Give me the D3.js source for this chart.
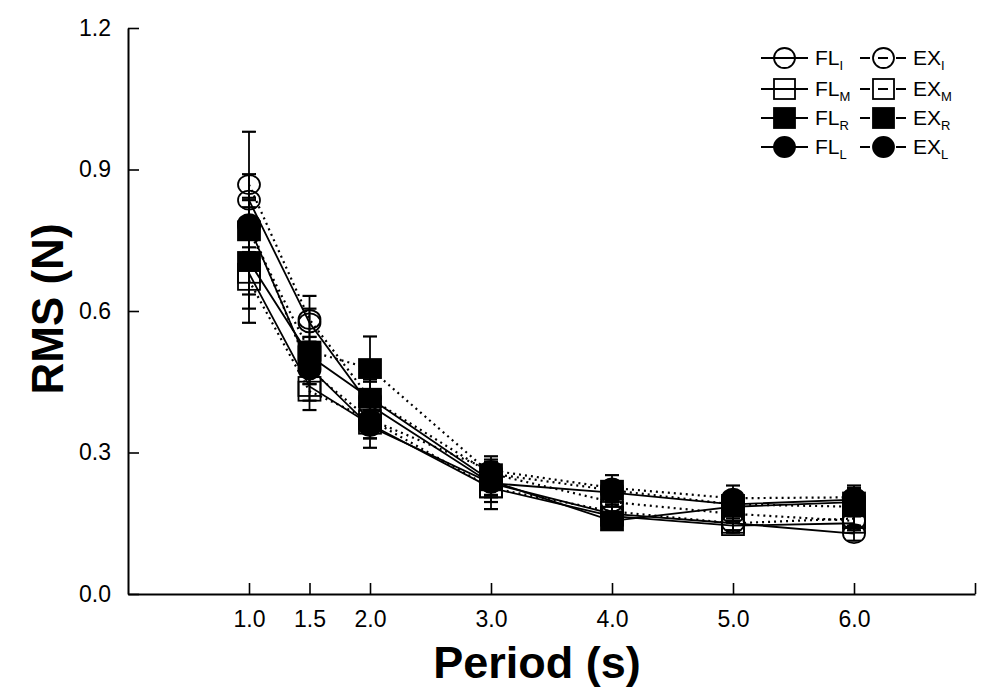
<!DOCTYPE html>
<html><head><meta charset="utf-8">
<script src="https://cdn.jsdelivr.net/npm/d3@7"></script>
<style>body{margin:0;background:#fff;} svg{display:block;font-family:"Liberation Sans",Arial,sans-serif;}</style>
</head><body>
<svg id="c" width="1000" height="696"></svg>
<script>
const periods = [1.0, 1.5, 2.0, 3.0, 4.0, 5.0, 6.0];
const xTickLabels = ["1.0","1.5","2.0","3.0","4.0","5.0","6.0"];
const yTicks = [0, 0.3, 0.6, 0.9, 1.2];

const FL_I = [0.835, 0.575, 0.400, 0.235, 0.170, 0.150, 0.128];
const FL_M = [0.680, 0.440, 0.360, 0.225, 0.165, 0.145, 0.150];
const FL_R = [0.705, 0.505, 0.415, 0.240, 0.155, 0.185, 0.195];
const FL_L = [0.780, 0.480, 0.355, 0.235, 0.215, 0.190, 0.200];
const EX_I = [0.868, 0.582, 0.415, 0.255, 0.195, 0.170, 0.155];
const EX_M = [0.665, 0.430, 0.370, 0.225, 0.175, 0.150, 0.160];
const EX_R = [0.770, 0.515, 0.478, 0.255, 0.220, 0.190, 0.185];
const EX_L = [0.785, 0.475, 0.370, 0.262, 0.225, 0.203, 0.205];

const FL_I_err = [0.055, 0.030, 0.030, 0.025, 0.020, 0.015, 0.015];
const FL_M_err = [0.105, 0.030, 0.030, 0.045, 0.020, 0.015, 0.015];
const FL_R_err = [0.070, 0.030, 0.040, 0.030, 0.015, 0.020, 0.020];
const FL_L_err = [0.060, 0.035, 0.045, 0.030, 0.020, 0.020, 0.025];
const EX_I_err = [0.112, 0.050, 0.035, 0.025, 0.020, 0.015, 0.015];
const EX_M_err = [0.060, 0.040, 0.030, 0.030, 0.020, 0.015, 0.015];
const EX_R_err = [0.050, 0.030, 0.068, 0.030, 0.020, 0.020, 0.020];
const EX_L_err = [0.050, 0.030, 0.040, 0.030, 0.027, 0.027, 0.025];

const series = [
  {name:"FL", sub:"I", vals:FL_I, err:FL_I_err, shape:"circle", fill:false, dotted:false},
  {name:"FL", sub:"M", vals:FL_M, err:FL_M_err, shape:"square", fill:false, dotted:false},
  {name:"FL", sub:"R", vals:FL_R, err:FL_R_err, shape:"square", fill:true, dotted:false},
  {name:"FL", sub:"L", vals:FL_L, err:FL_L_err, shape:"circle", fill:true, dotted:false},
  {name:"EX", sub:"I", vals:EX_I, err:EX_I_err, shape:"circle", fill:false, dotted:true},
  {name:"EX", sub:"M", vals:EX_M, err:EX_M_err, shape:"square", fill:false, dotted:true},
  {name:"EX", sub:"R", vals:EX_R, err:EX_R_err, shape:"square", fill:true, dotted:true},
  {name:"EX", sub:"L", vals:EX_L, err:EX_L_err, shape:"circle", fill:true, dotted:true}
];

const svg = d3.select("#c");
const x = d3.scaleLinear().domain([0, 7]).range([128, 975]);
const y = d3.scaleLinear().domain([0, 1.2]).range([594, 28]);

// axes
const xAxis = d3.axisBottom(x).tickValues(periods.concat([7])).tickSizeInner(-11).tickSizeOuter(0)
  .tickFormat((d,i) => i < xTickLabels.length ? xTickLabels[i] : "").tickPadding(17);
const gx = svg.append("g").attr("transform", `translate(0,${y(0)})`).call(xAxis);
gx.select(".domain").attr("stroke", "#000").attr("stroke-width", 2);
gx.selectAll(".tick line").attr("stroke", "#000").attr("stroke-width", 1.6);
gx.selectAll(".tick text").attr("font-size", 23).attr("fill", "#000").attr("font-family", "Liberation Sans");

const yAxis = d3.axisLeft(y).tickValues(yTicks).tickSizeInner(-11).tickSizeOuter(0)
  .tickFormat(d3.format(".1f")).tickPadding(17);
const gy = svg.append("g").attr("transform", `translate(${x(0)},0)`).call(yAxis);
gy.select(".domain").attr("stroke", "#000").attr("stroke-width", 2);
gy.selectAll(".tick line").attr("stroke", "#000").attr("stroke-width", 1.6);
gy.selectAll(".tick text").attr("font-size", 23).attr("fill", "#000").attr("font-family", "Liberation Sans");

svg.append("text").attr("x", 537).attr("y", 678).attr("text-anchor", "middle")
  .attr("font-size", 45).attr("font-weight", "bold").text("Period (s)");
svg.append("text").attr("transform", "translate(63,309) rotate(-90)").attr("text-anchor", "middle")
  .attr("font-size", 44).attr("font-weight", "bold").text("RMS (N)");

const plot = svg.append("g");
const line = d3.line().x((d,i) => x(periods[i])).y(d => y(d));

// lines
series.forEach(s => {
  plot.append("path").datum(s.vals).attr("d", line).attr("fill", "none")
    .attr("stroke", "#000").attr("stroke-width", s.dotted ? 2.2 : 1.8)
    .attr("stroke-dasharray", s.dotted ? "2,4" : null);
});
// error bars
series.forEach(s => {
  const g = plot.append("g");
  s.vals.forEach((v, i) => {
    const cx = x(periods[i]);
    const hi = y(v + s.err[i]), lo = y(v - s.err[i]);
    g.append("line").attr("x1", cx).attr("x2", cx).attr("y1", hi).attr("y2", lo).attr("stroke", "#000").attr("stroke-width", 1.8);
    g.append("line").attr("x1", cx - 7).attr("x2", cx + 7).attr("y1", hi).attr("y2", hi).attr("stroke", "#000").attr("stroke-width", 2.2);
    g.append("line").attr("x1", cx - 7).attr("x2", cx + 7).attr("y1", lo).attr("y2", lo).attr("stroke", "#000").attr("stroke-width", 2.2);
  });
});
// markers
function marker(g, s, cx, cy, w, h) {
  if (s.shape === "circle") {
    g.append("ellipse").attr("cx", cx).attr("cy", cy).attr("rx", w/2).attr("ry", h/2)
      .attr("fill", s.fill ? "#000" : "none").attr("stroke", "#000").attr("stroke-width", 1.8);
  } else {
    g.append("rect").attr("x", cx - w/2).attr("y", cy - h/2).attr("width", w).attr("height", h)
      .attr("fill", s.fill ? "#000" : "none").attr("stroke", "#000").attr("stroke-width", 1.8);
  }
}
series.forEach(s => {
  const g = plot.append("g");
  s.vals.forEach((v, i) => marker(g, s, x(periods[i]), y(v), 22, 19));
});

// legend
const legRows = [58, 89, 118, 147];
const legCols = [{x1: 761, x2: 808, tx: 815}, {x1: 860, x2: 907, tx: 913}];
const leg = svg.append("g");
series.forEach((s, k) => {
  const col = legCols[s.dotted ? 1 : 0];
  const ry = legRows[k % 4];
  const cx = (col.x1 + col.x2) / 2;
  leg.append("line").attr("x1", col.x1).attr("x2", col.x2).attr("y1", ry).attr("y2", ry)
    .attr("stroke", "#000").attr("stroke-width", 1.8).attr("stroke-dasharray", s.dotted ? "10,8" : null);
  marker(leg, s, cx, ry, 21, 20);
  const t = leg.append("text").attr("x", col.tx).attr("y", ry + 7).attr("font-size", 21).attr("fill", "#000");
  t.append("tspan").text(s.name);
  t.append("tspan").attr("dy", 5).attr("font-size", 13).text(s.sub);
});
</script>
</body></html>
